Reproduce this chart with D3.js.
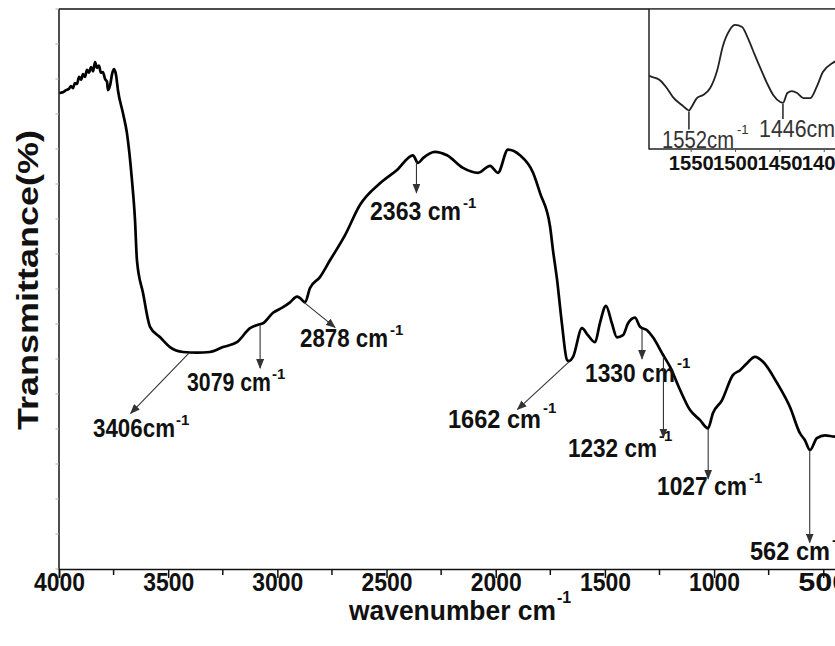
<!DOCTYPE html>
<html><head><meta charset="utf-8">
<script src="https://cdn.jsdelivr.net/npm/d3@7"></script>
<style>body{margin:0;background:#fff}svg{display:block}</style>
</head><body>
<svg id="chart" width="835" height="646"></svg>
<script>
// ---- data ----
const wavenumber = [3998,3982,3968,3954,3945,3936,3927,3918,3908,3899,3890,3881,3872,3863,3853,3844,3835,3826,3817,3808,3799,3789,3780,3776,3766,3757,3748,3739,3730,3707,3689,3666,3652,3643,3615,3583,3537,3492,3432,3368,3309,3249,3185,3125,3089,3066,3020,2974,2942,2910,2896,2873,2851,2805,2759,2690,2622,2530,2452,2379,2356,2333,2278,2223,2150,2081,2026,1990,1944,1889,1829,1797,1751,1738,1719,1697,1674,1665,1646,1605,1578,1545,1523,1495,1468,1445,1417,1394,1362,1339,1307,1280,1234,1202,1156,1110,1065,1028,1005,964,914,881,849,813,776,712,652,607,584,561,529,492,446,400];
const transmittance = [68.0,68.1,68.4,68.6,69.0,68.7,69.4,69.3,70.3,69.9,70.7,70.3,71.3,70.9,71.7,71.1,72.4,71.6,71.9,70.9,71.0,70.0,69.6,68.4,69.1,70.7,71.4,70.6,68.4,65.1,62.3,55.6,49.9,44.1,39.4,34.6,33.1,31.7,31.0,30.9,31.0,31.7,32.4,34.4,34.9,35.1,36.6,37.4,38.1,38.9,38.7,38.1,40.1,41.7,44.1,47.7,52.0,55.1,57.0,59.1,58.0,58.7,59.6,59.1,57.3,56.6,57.6,56.6,59.9,59.1,56.6,53.7,48.9,45.6,41.3,35.1,29.9,29.7,30.3,34.4,33.4,32.4,35.1,37.6,35.1,33.1,33.4,35.1,35.9,34.6,34.1,33.1,30.6,28.9,25.6,22.7,21.3,20.1,22.3,24.1,27.7,28.4,29.4,30.3,29.6,26.6,23.1,19.4,18.4,17.0,18.7,19.1,18.9,19.0];
const xTickValues = [4000,3500,3000,2500,2000,1500,1000,500];
const xMinorValues = [3750,3250,2750,2250,1750,1250,750];
const peakWavenumbers = [3406,3079,2878,2363,1662,1330,1232,1027,562];
const peakLabels = ["3406cm","3079 cm","2878 cm","2363 cm","1662 cm","1330 cm","1232 cm","1027 cm","562 cm"];

const insetWavenumber = [1597,1596,1585,1577,1570,1560,1554,1552,1549,1543,1536,1528,1520,1514,1506,1500,1492,1487,1480,1472,1464,1457,1449,1446,1441,1436,1430,1423,1415,1408,1401,1390,1376];
const insetSignal = [52.5,52.1,49.3,43.6,37.1,31.4,28.2,27.5,30.0,36.4,38.6,43.6,56.4,72.9,85.0,88.6,87.1,81.4,70.7,58.6,47.1,38.6,33.6,32.9,40.0,41.4,40.0,36.4,36.4,44.3,55.0,61.4,65.0];
const insetTickValues = [1550,1500,1450,1400];
const insetPeaks = [1552,1446];
const insetPeakLabels = ["1552cm","1446cm"];

// ---- layout (styling, not data) ----
const FONT = "'Liberation Sans Narrow','Liberation Sans',Arial,sans-serif";
const peakLayout = [
  {dx:-58, dy:60, tx:93,  ty:437, tw:82, sx:176, sy:425},
  {dx:0,   dy:43, tx:187, ty:391, tw:84, sx:272, sy:379},
  {dx:31,  dy:25, tx:300, ty:347, tw:88, sx:390, sy:335},
  {dx:0,   dy:31, tx:370, ty:220, tw:91, sx:463, sy:208},
  {dx:-52, dy:48, tx:448, ty:428, tw:93, sx:543, sy:413},
  {dx:0,   dy:30, tx:585, ty:382, tw:90, sx:677, sy:368},
  {dx:0,   dy:81, tx:568, ty:457, tw:89, sx:659, sy:441},
  {dx:0,   dy:50, tx:657, ty:495, tw:90, sx:749, sy:483},
  {dx:0,   dy:92, tx:750, ty:560, tw:80, sx:832, sy:545}
];

const svg = d3.select("#chart");
const x = d3.scaleLinear().domain([4000,400]).range([59,845.1]);
const y = d3.scaleLinear().domain([0,80]).range([569,9]);

// arrow marker
svg.append("defs").append("marker")
  .attr("id","arr").attr("markerUnits","userSpaceOnUse")
  .attr("markerWidth",10).attr("markerHeight",8)
  .attr("refX",9).attr("refY",4).attr("orient","auto")
  .append("path").attr("d","M0,0 L10,4 L0,8 Z").attr("fill","#333");

// frame
svg.append("line").attr("x1",59).attr("x2",835).attr("y1",9).attr("y2",9)
  .attr("stroke","#111").attr("stroke-width",1.5);
svg.append("line").attr("x1",59).attr("x2",59).attr("y1",9).attr("y2",569.5)
  .attr("stroke","#222").attr("stroke-width",1.6);

// faint left ticks
const yTicks = d3.range(0,81,5);
svg.append("g").selectAll("line").data(yTicks).join("line")
  .attr("x1",55.5).attr("x2",59).attr("y1",d=>y(d)).attr("y2",d=>y(d))
  .attr("stroke","#aaa").attr("stroke-width",1);

// bottom axis
const xAxis = d3.axisBottom(x).tickValues(xTickValues).tickSize(9).tickFormat(d3.format("d"));
const gx = svg.append("g").attr("transform","translate(0,569)").call(xAxis);
gx.select(".domain").attr("stroke","#111").attr("stroke-width",1.6);
gx.selectAll(".tick line").attr("stroke","#111").attr("stroke-width",1.5);
gx.selectAll(".tick text").attr("y",null).attr("dy",null)
  .attr("transform","translate(0,22)")
  .attr("font-family",FONT).attr("font-weight","bold").attr("font-size",26)
  .attr("fill","#111").attr("textLength",51).attr("lengthAdjust","spacingAndGlyphs");
svg.append("g").selectAll("line").data(xMinorValues).join("line")
  .attr("x1",d=>x(d)).attr("x2",d=>x(d)).attr("y1",569).attr("y2",575)
  .attr("stroke","#111").attr("stroke-width",1.5);

// titles
svg.append("text").attr("x",349).attr("y",620).text("wavenumber cm")
  .attr("font-family",FONT).attr("font-weight","bold").attr("font-size",27)
  .attr("fill","#111").attr("textLength",207).attr("lengthAdjust","spacingAndGlyphs");
svg.append("text").attr("x",557).attr("y",603).text("-1")
  .attr("font-family",FONT).attr("font-weight","bold").attr("font-size",16).attr("fill","#111");
svg.append("text").attr("transform","translate(38,430) rotate(-90)").text("Transmittance(%)")
  .attr("font-family",FONT).attr("font-weight","bold").attr("font-size",30)
  .attr("fill","#111").attr("textLength",300).attr("lengthAdjust","spacingAndGlyphs");

// main curve
const pts = wavenumber.map((w,i)=>[w,transmittance[i]]);
svg.append("path").datum(pts)
  .attr("d", d3.line().x(d=>x(d[0])).y(d=>y(d[1])).curve(d3.curveMonotoneX))
  .attr("fill","none").attr("stroke","#000").attr("stroke-width",2.7)
  .attr("stroke-linejoin","round");

function valueAt(w){
  for(let i=0;i<wavenumber.length-1;i++){
    const a=wavenumber[i], b=wavenumber[i+1];
    if(w<=a && w>=b){ const t=(a-w)/(a-b); return transmittance[i]+t*(transmittance[i+1]-transmittance[i]); }
  }
  return transmittance[transmittance.length-1];
}

// annotations
peakWavenumbers.forEach((w,i)=>{
  const L = peakLayout[i];
  const x0 = x(w), y0 = y(valueAt(w))+1;
  svg.append("line").attr("x1",x0).attr("y1",y0).attr("x2",x0+L.dx).attr("y2",y0+L.dy)
    .attr("stroke","#333").attr("stroke-width",1.1).attr("marker-end","url(#arr)");
  svg.append("text").attr("x",L.tx).attr("y",L.ty).text(peakLabels[i])
    .attr("font-family",FONT).attr("font-weight","bold").attr("font-size",25).attr("fill","#111")
    .attr("textLength",L.tw).attr("lengthAdjust","spacingAndGlyphs");
  svg.append("text").attr("x",L.sx).attr("y",L.sy).text("-1")
    .attr("font-family",FONT).attr("font-weight","bold").attr("font-size",15).attr("fill","#111");
});

// ---- inset ----
const xi = d3.scaleLinear().domain([1597,1350]).range([649,868.1]);
const yi = d3.scaleLinear().domain([0,100]).range([149,9]);
const ig = svg.append("g");
ig.append("rect").attr("x",649).attr("y",9.8).attr("width",200).attr("height",139).attr("fill","#fff");
svg.append("clipPath").attr("id","ic").append("rect").attr("x",649).attr("y",9).attr("width",200).attr("height",140);
ig.append("path").datum(insetWavenumber.map((w,i)=>[w,insetSignal[i]]))
  .attr("clip-path","url(#ic)")
  .attr("d", d3.line().x(d=>xi(d[0])).y(d=>yi(d[1])).curve(d3.curveMonotoneX))
  .attr("fill","none").attr("stroke","#222").attr("stroke-width",1.8);
ig.append("line").attr("x1",649).attr("x2",649).attr("y1",9).attr("y2",149.5)
  .attr("stroke","#222").attr("stroke-width",1.5);
const ixAxis = d3.axisBottom(xi).tickValues(insetTickValues).tickSize(3).tickFormat(d3.format("d"));
const gxi = ig.append("g").attr("transform","translate(0,149)").call(ixAxis);
gxi.select(".domain").attr("stroke","#222").attr("stroke-width",1.5).attr("d","M649,0H835");
gxi.selectAll(".tick line").attr("stroke","#555");
gxi.selectAll(".tick text").attr("y",null).attr("dy",null).attr("transform","translate(0,21)")
  .attr("font-family",FONT).attr("font-weight","bold").attr("font-size",21).attr("fill","#111")
  .attr("textLength",45).attr("lengthAdjust","spacingAndGlyphs");

function insetValueAt(w){
  for(let i=0;i<insetWavenumber.length-1;i++){
    const a=insetWavenumber[i], b=insetWavenumber[i+1];
    if(w<=a && w>=b){ const t=(a-w)/(a-b); return insetSignal[i]+t*(insetSignal[i+1]-insetSignal[i]); }
  }
  return 0;
}
const insetLayout = [
  {len:18, tx:662, ty:148, tw:72, sx:737, sy:134},
  {len:15, tx:759, ty:137, tw:76, sx:837, sy:123}
];
insetPeaks.forEach((w,i)=>{
  const L = insetLayout[i];
  const x0 = xi(w), y0 = yi(insetValueAt(w))+1;
  ig.append("line").attr("x1",x0).attr("x2",x0).attr("y1",y0).attr("y2",y0+L.len)
    .attr("stroke","#222").attr("stroke-width",1.5);
  ig.append("text").attr("x",L.tx).attr("y",L.ty).text(insetPeakLabels[i])
    .attr("font-family",FONT).attr("font-size",23).attr("fill","#333")
    .attr("textLength",L.tw).attr("lengthAdjust","spacingAndGlyphs");
  ig.append("text").attr("x",L.sx).attr("y",L.sy).text("-1")
    .attr("font-family",FONT).attr("font-size",13).attr("fill","#333");
});
</script>
</body></html>
